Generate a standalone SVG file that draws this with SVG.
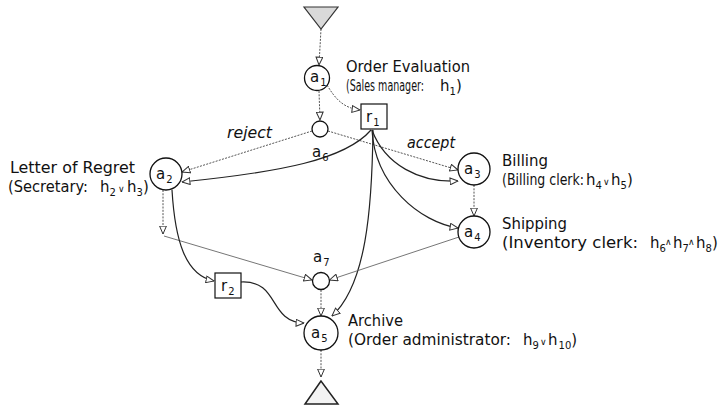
<svg xmlns="http://www.w3.org/2000/svg" width="727" height="407" viewBox="0 0 727 407">
  <defs>
    <style>
      text { font-family: "DejaVu Sans", "Liberation Sans", sans-serif; font-size: 15px; fill: #111; }
      .it { font-style: italic; }
      .sub { font-size: 10px; }
      .op { font-size: 9px; }
      .node { fill: #fff; stroke: #111; stroke-width: 1.3; }
      .box { fill: #fff; stroke: #111; stroke-width: 1.2; }
      .dot { fill: none; stroke: #555; stroke-width: 1; stroke-dasharray: 2 1.3; marker-end: url(#ah); }
      .thin { fill: none; stroke: #666; stroke-width: 0.9; marker-end: url(#ah); }
      .solid { fill: none; stroke: #222; stroke-width: 1.2; marker-end: url(#ah); }
    </style>
    <marker id="ah" viewBox="0 0 9 8" refX="8.5" refY="4" markerWidth="9" markerHeight="8" markerUnits="userSpaceOnUse" orient="auto">
      <path d="M0.6,0.6 L8.5,4 L0.6,7.4 z" fill="#fff" stroke="#333" stroke-width="1"/>
    </marker>
  </defs>

  <rect width="727" height="407" fill="#fff"/>

  <!-- connectors -->
  <g id="connectors">
    <path class="dot" d="M321,29 L319,65"/>
    <path class="dot" d="M319,91 L320,120"/>
    <path class="dot" d="M327,85 C336,100 344,108 360,110"/>
    <path class="dot" d="M312,131 L182,172"/>
    <path class="dot" d="M328,131 L458,170"/>
    <path class="solid" d="M371,130 C345,160 280,172 182,182"/>
    <path class="solid" d="M372,130 C385,165 420,183 458,181"/>
    <path class="solid" d="M372,130 C375,185 420,222 458,228"/>
    <path class="solid" d="M373,130 C372,210 366,285 332,316"/>
    <path class="dot" d="M474,185 L474,216"/>
    <path class="thin" d="M459,237 L329.5,280"/>
    <path class="dot" d="M163,190 L163,234"/>
    <path class="thin" d="M164,236 L312,280"/>
    <path class="solid" d="M172,190 C175,240 185,275 214,281"/>
    <path class="solid" d="M241,282 C280,280 268,322 304,323"/>
    <path class="dot" d="M321,290 L321,316"/>
    <path class="dot" d="M321,350 L321,377"/>
  </g>

  <!-- start and end -->
  <g id="start">
    <polygon points="304,7 338,7 321,29" fill="#d9d9d9" stroke="#333" stroke-width="1.2"/>
  </g>
  <g id="end">
    <polygon points="321,381 305,404 338,404" fill="#f3f3f3" stroke="#222" stroke-width="1.5"/>
  </g>

  <!-- activities -->
  <g id="a1">
    <circle class="node" cx="317" cy="78" r="12.5"/>
    <text x="310" y="82">a<tspan class="sub" dx="1" dy="4">1</tspan></text>
    <text x="346" y="72" textLength="124" lengthAdjust="spacingAndGlyphs">Order Evaluation</text>
    <text x="346" y="91" textLength="78" lengthAdjust="spacingAndGlyphs">(Sales manager:</text>
    <text x="440" y="91">h<tspan class="sub" dy="4">1</tspan><tspan dy="-4">)</tspan></text>
  </g>

  <g id="a2">
    <circle class="node" cx="166" cy="174" r="16"/>
    <text x="156" y="179">a<tspan class="sub" dx="1" dy="4">2</tspan></text>
    <text x="10" y="173" textLength="125" lengthAdjust="spacingAndGlyphs">Letter of Regret</text>
    <text x="8" y="192" textLength="80" lengthAdjust="spacingAndGlyphs">(Secretary:</text>
    <text x="100" y="192">h<tspan class="sub" dy="4">2</tspan><tspan class="op" x="118" dy="-4">∨</tspan><tspan x="127">h</tspan><tspan class="sub" dy="4">3</tspan><tspan dy="-4">)</tspan></text>
  </g>

  <g id="a3">
    <circle class="node" cx="474" cy="169" r="16"/>
    <text x="464" y="174">a<tspan class="sub" dx="1" dy="4">3</tspan></text>
    <text x="502" y="166" textLength="46" lengthAdjust="spacingAndGlyphs">Billing</text>
    <text x="502" y="185" textLength="82" lengthAdjust="spacingAndGlyphs">(Billing clerk:</text>
    <text x="586" y="185">h<tspan class="sub" dy="4">4</tspan><tspan class="op" x="603" dy="-4">∨</tspan><tspan x="611">h</tspan><tspan class="sub" dy="4">5</tspan><tspan dy="-4">)</tspan></text>
  </g>

  <g id="a4">
    <circle class="node" cx="474" cy="232" r="16"/>
    <text x="464" y="237">a<tspan class="sub" dx="1" dy="4">4</tspan></text>
    <text x="502" y="229" textLength="65" lengthAdjust="spacingAndGlyphs">Shipping</text>
    <text x="502" y="248" textLength="136" lengthAdjust="spacingAndGlyphs">(Inventory clerk:</text>
    <text x="650" y="248">h<tspan class="sub" dy="4">6</tspan><tspan class="op" x="665" dy="-7">∧</tspan><tspan x="673" dy="3">h</tspan><tspan class="sub" dy="4">7</tspan><tspan class="op" x="688" dy="-7">∧</tspan><tspan x="696" dy="3">h</tspan><tspan class="sub" dy="4">8</tspan><tspan dy="-4">)</tspan></text>
  </g>

  <g id="a5">
    <circle class="node" cx="321" cy="333" r="17"/>
    <text x="311" y="338">a<tspan class="sub" dx="1" dy="4">5</tspan></text>
    <text x="348" y="326" textLength="55" lengthAdjust="spacingAndGlyphs">Archive</text>
    <text x="348" y="345" textLength="163" lengthAdjust="spacingAndGlyphs">(Order administrator:</text>
    <text x="523" y="345">h<tspan class="sub" dy="4">9</tspan><tspan class="op" x="540" dy="-4">∨</tspan><tspan x="548">h</tspan><tspan class="sub" dx="1" dy="4">10</tspan><tspan dy="-4">)</tspan></text>
  </g>

  <!-- routing points -->
  <g id="a6">
    <circle class="node" cx="320" cy="129" r="8"/>
    <text x="312" y="157">a<tspan class="sub" dx="1" dy="4">6</tspan></text>
    <text class="it" x="227" y="138" textLength="45" lengthAdjust="spacingAndGlyphs">reject</text>
    <text class="it" x="407" y="148" textLength="48" lengthAdjust="spacingAndGlyphs">accept</text>
  </g>

  <g id="a7">
    <circle class="node" cx="321" cy="281" r="8.5"/>
    <text x="313" y="262">a<tspan class="sub" dx="1" dy="4">7</tspan></text>
  </g>

  <g id="r1">
    <rect class="box" x="361" y="104" width="26" height="25"/>
    <text x="366" y="122">r<tspan class="sub" dx="1" dy="4">1</tspan></text>
  </g>

  <g id="r2">
    <rect class="box" x="215" y="273" width="26" height="25"/>
    <text x="221" y="291">r<tspan class="sub" dx="1" dy="4">2</tspan></text>
  </g>
</svg>
